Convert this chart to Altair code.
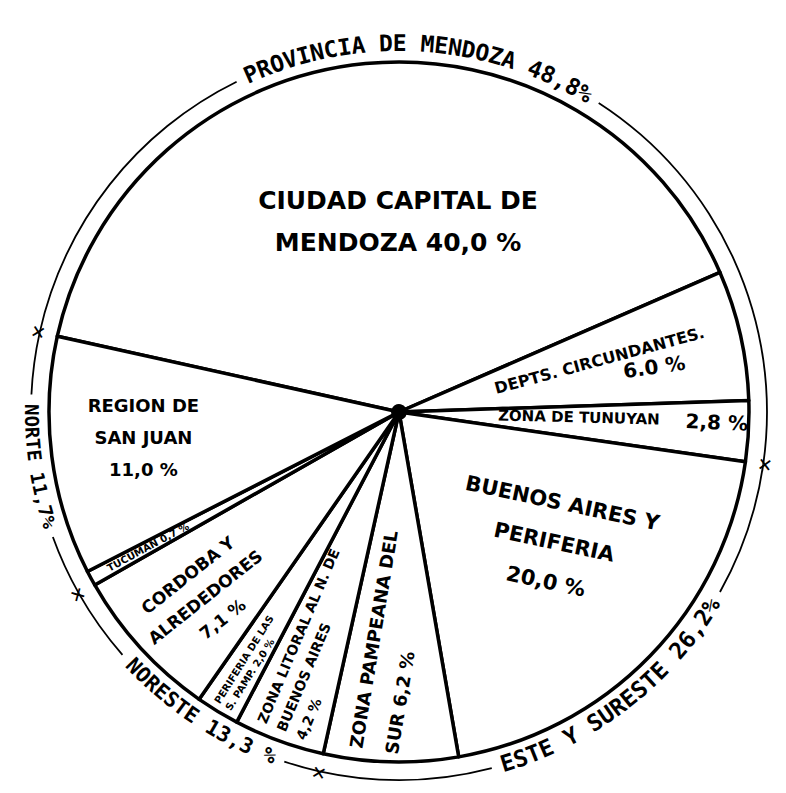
import math
import altair as alt
import pandas as pd

# ---------------- data ----------------
SLICES = ["Ciudad Capital de Mendoza", "Depts. circundantes", "Zona de Tunuyán",
          "Buenos Aires y periferia", "Zona pampeana del sur",
          "Zona litoral al N. de Buenos Aires", "Periferia de las S. Pamp.",
          "Córdoba y alrededores", "Tucumán", "Región de San Juan"]
VALUES = [40.0, 6.0, 2.8, 20.0, 6.2, 4.2, 2.0, 7.1, 0.7, 11.0]

GROUP_LABELS = ["PROVINCIA DE MENDOZA 48,8%", "ESTE Y SURESTE 26,2%",
                "NORESTE 13,3 %", "NORTE 11,7%"]
GROUP_SIZES = [3, 2, 3, 2]  # number of consecutive slices in each group

SLICE_LABELS = [
    ["CIUDAD CAPITAL DE\nMENDOZA 40,0 %"],
    ["DEPTS. CIRCUNDANTES.", "6.0 %"],
    ["ZONA DE TUNUYAN", "2,8 %"],
    ["BUENOS AIRES Y\nPERIFERIA\n20,0 %"],
    ["ZONA PAMPEANA DEL\nSUR 6,2 %"],
    ["ZONA LITORAL AL N. DE\nBUENOS AIRES\n4,2 %"],
    ["PERIFERIA DE LAS\nS. PAMP. 2,0 %"],
    ["CORDOBA Y\nALREDEDORES\n7,1 %"],
    ["TUCUMAN 0,7 %"],
    ["REGION DE\nSAN JUAN\n11,0 %"],
]

# ---------------- layout / style ----------------
START_DEG = -77.5
CX, CY = 391, 404
R_PIE, R_RING = 350, 368
FONT = "DejaVu Sans"
RING_FONT = "DejaVu Sans Mono"
GROUP_FONT = [23, 23, 21, 19]
GROUP_SHIFT = [-7, -3, -3, 0]
# per label piece: (angle offset from slice middle in deg, radius,
#                   rotation mode, rotation value, size, lineHeight, align)
#   mode "abs": fixed angle; "out": along radius reading outwards; "in": reading inwards
PIECE_LAYOUT = [
    [(5.2, 190, "abs", 0, 25, 42, "center")],
    [(-1.6, 207, "out", -2.5, 16, 18, "center"), (2.9, 259, "out", 4.5, 20, 22, "center")],
    [(-1.4, 180, "out", -1.7, 15, 16, "center"), (-1.1, 318, "out", -0.7, 20, 22, "center")],
    [(-3.9, 203, "abs", 12, 21, 40, "center")],
    [(2.7, 340, "in", 8, 18, 36, "left")],
    [(0.1, 340, "in", 3, 14, 21, "left")],
    [(-0.3, 343, "in", 1, 10, 13, "left")],
    [(-1.5, 268, "in", 4, 17, 28, "center")],
    [(0.0, 285, "in", 0, 10, 12, "center")],
    [(1.3, 257, "abs", 0, 18, 32, "center")],
]


def to_pct(deg):
    return (deg - START_DEG) / 3.6


theta_scale = alt.Scale(domain=[0, 100],
                        range=[math.radians(START_DEG), math.radians(START_DEG + 360)])
X = alt.value(CX)
Y = alt.value(CY)

cum = [0.0]
for v in VALUES:
    cum.append(cum[-1] + v)

slice_df = pd.DataFrame({"name": SLICES, "value": VALUES,
                         "t0": cum[:-1], "t1": cum[1:]})

pie = alt.Chart(slice_df).mark_arc(
    fill="white", stroke="black", strokeWidth=3.5, strokeJoin="round"
).encode(
    theta=alt.Theta("t0:Q", scale=theta_scale, stack=None),
    theta2="t1:Q",
    radius=alt.value(R_PIE),
    x=X, y=Y,
)

hub = alt.Chart(pd.DataFrame({"t0": [0.0], "t1": [100.0]})).mark_arc(color="black").encode(
    theta=alt.Theta("t0:Q", scale=theta_scale, stack=None),
    theta2="t1:Q",
    radius=alt.value(8),
    x=X, y=Y,
)

# slice labels
layers = [pie, hub]
for i, pieces in enumerate(SLICE_LABELS):
    mid = (cum[i] + cum[i + 1]) / 2
    mid_deg = START_DEG + 3.6 * mid
    for text, (doff, r, mode, rv, fs, lh, align) in zip(pieces, PIECE_LAYOUT[i]):
        if mode == "abs":
            rot = rv
        elif mode == "out":
            rot = mid_deg - 90 + rv
        else:
            rot = mid_deg + 90 + rv
        rot = rot % 360
        nlines = text.count("\n") + 1
        df = pd.DataFrame({"label": [text], "t": [mid + doff / 3.6]})
        layers.append(
            alt.Chart(df).mark_text(
                font=FONT, fontWeight="bold", fontSize=fs, lineHeight=lh,
                align=align, baseline="middle", angle=rot, lineBreak="\n",
                dy=-(nlines - 1) * lh / 2, color="black",
            ).encode(
                theta=alt.Theta("t:Q", scale=theta_scale, stack=None),
                radius=alt.value(r),
                text="label:N",
                x=X, y=Y,
            )
        )

# outer ring group labels (curved, one character at a time) and ring segments
bidx = [0]
for s in GROUP_SIZES:
    bidx.append(bidx[-1] + s)

char_rows, ring_rows, cross_rows = [], [], []
for gi, label in enumerate(GROUP_LABELS):
    g0, g1 = cum[bidx[gi]], cum[bidx[gi + 1]]
    mid_deg = START_DEG + 3.6 * (g0 + g1) / 2 + GROUP_SHIFT[gi]
    fs = GROUP_FONT[gi]
    step = math.degrees(0.602 * fs / R_RING)
    n = len(label)
    sign = 1 if gi == 0 else -1
    for k, ch in enumerate(label):
        if ch == " ":
            continue
        phi = mid_deg + sign * (k - (n - 1) / 2) * step
        rot = phi % 360 if sign > 0 else (phi + 180) % 360
        char_rows.append({"ch": ch, "t": to_pct(phi), "rot": rot, "fs": fs})
    half = n * step / 2 + 1.5
    ring_rows.append({"t0": g0, "t1": to_pct(mid_deg - half)})
    ring_rows.append({"t0": to_pct(mid_deg + half), "t1": g1})
    bdeg = START_DEG + 3.6 * g0
    cross_rows.append({"t": g0, "rot": bdeg % 360})

ring = alt.Chart(pd.DataFrame(ring_rows)).mark_arc(color="black").encode(
    theta=alt.Theta("t0:Q", scale=theta_scale, stack=None),
    theta2="t1:Q",
    radius=alt.value(R_RING + 0.9),
    radius2=alt.value(R_RING - 0.9),
    x=X, y=Y,
)

chars = alt.Chart(pd.DataFrame(char_rows)).mark_text(
    font=RING_FONT, fontWeight="bold", align="center", baseline="middle", color="black"
).encode(
    theta=alt.Theta("t:Q", scale=theta_scale, stack=None),
    radius=alt.value(R_RING),
    angle=alt.Angle("rot:Q", scale=None),
    size=alt.Size("fs:Q", scale=None),
    text="ch:N",
    x=X, y=Y,
)

crosses = alt.Chart(pd.DataFrame(cross_rows)).mark_text(
    text="\u2715", font=FONT, fontSize=18, fontWeight="bold",
    align="center", baseline="middle", color="black"
).encode(
    theta=alt.Theta("t:Q", scale=theta_scale, stack=None),
    radius=alt.value(R_RING),
    angle=alt.Angle("rot:Q", scale=None),
    x=X, y=Y,
)

layers += [ring, chars, crosses]

chart = alt.layer(*layers).properties(
    width=770, height=777, padding=0, autosize="none", background="white"
).configure_view(stroke=None)

chart.save("out.html", embed_options={"renderer": "svg", "actions": False})
